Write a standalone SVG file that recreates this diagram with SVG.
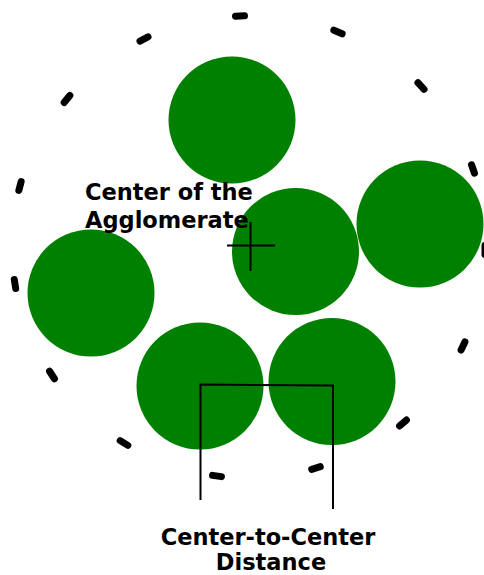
<svg xmlns="http://www.w3.org/2000/svg" width="484" height="575" viewBox="0 0 484 575">
<style>
.p{fill:#008000}
.d{stroke:#000;stroke-width:7;stroke-linecap:round}
.ln{stroke:#000;stroke-width:2;fill:none}
.t{font-family:"DejaVu Sans",Verdana,sans-serif;font-weight:bold;font-size:22.5px;fill:#000}
</style>
<defs><line id="dash" class="d" x1="-4.5" y1="0" x2="4.5" y2="0"/></defs>
<g id="boundary">
<use href="#dash" transform="translate(240,16) rotate(-2)"/>
<use href="#dash" transform="translate(144,39) rotate(-27)"/>
<use href="#dash" transform="translate(338,32) rotate(23)"/>
<use href="#dash" transform="translate(67,99) rotate(-51)"/>
<use href="#dash" transform="translate(421,86) rotate(47)"/>
<use href="#dash" transform="translate(473,169) rotate(71)"/>
<use href="#dash" transform="translate(20,186) rotate(-75)"/>
<use href="#dash" transform="translate(15,284) rotate(81)"/>
<use href="#dash" transform="translate(485,250) rotate(90)"/>
<use href="#dash" transform="translate(463,346) rotate(115)"/>
<use href="#dash" transform="translate(52,375) rotate(57)"/>
<use href="#dash" transform="translate(124,443) rotate(32)"/>
<use href="#dash" transform="translate(217,476) rotate(8)"/>
<use href="#dash" transform="translate(316,468) rotate(-17)"/>
<use href="#dash" transform="translate(403,423) rotate(-41)"/>
</g>
<g id="particle1"><circle class="p" cx="232" cy="120" r="63.5"/></g>
<g id="particle2"><circle class="p" cx="295.5" cy="251.5" r="63.5"/></g>
<g id="particle3"><circle class="p" cx="420" cy="224" r="63.5"/></g>
<g id="particle4"><circle class="p" cx="91" cy="293" r="63.5"/></g>
<g id="particle5"><circle class="p" cx="200" cy="386" r="63.5"/></g>
<g id="particle6"><circle class="p" cx="332" cy="381.5" r="63.5"/></g>
<g id="center-label">
<text class="t" x="85" y="200">Center of the</text>
<text class="t" x="85" y="228">Agglomerate</text>
</g>
<g id="center-cross">
<line class="ln" x1="250.5" y1="222" x2="250.5" y2="271"/>
<line class="ln" x1="227" y1="245.5" x2="275" y2="245.5"/>
</g>
<g id="connectors">
<polyline class="ln" points="200.5,500 200.5,384.5 333,385.5 333,509"/>
</g>
<g id="distance-label">
<text class="t" x="268" y="545" text-anchor="middle">Center-to-Center</text>
<text class="t" x="271" y="570" text-anchor="middle">Distance</text>
</g>
</svg>
